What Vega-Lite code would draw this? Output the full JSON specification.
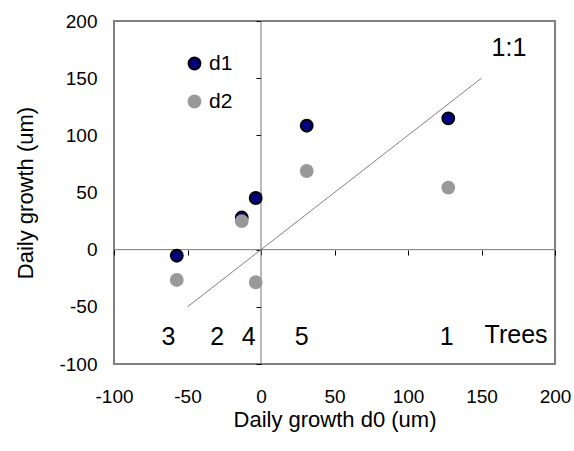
{
  "$schema": "https://vega.github.io/schema/vega-lite/v6.json",
  "width": 441,
  "height": 343,
  "autosize": "none",
  "padding": {"left": 114, "top": 21, "right": 19, "bottom": 87},
  "background": "white",
  "config": {
    "view": {"stroke": "#808080", "strokeWidth": 2},
    "font": "Liberation Sans",
    "axis": {"grid": false},
    "text": {"font": "Liberation Sans"}
  },
  "datasets": {
    "pts": [
      {"tree": "1", "d0": 127.4, "growth": 114.9, "series": "d1"},
      {"tree": "2", "d0": -13.1, "growth": 28.1, "series": "d1"},
      {"tree": "3", "d0": -57.3, "growth": -5.3, "series": "d1"},
      {"tree": "4", "d0": -3.6, "growth": 45.2, "series": "d1"},
      {"tree": "5", "d0": 31.1, "growth": 108.4, "series": "d1"},
      {"tree": "1", "d0": 127.4, "growth": 54.2, "series": "d2"},
      {"tree": "2", "d0": -13.1, "growth": 25.0, "series": "d2"},
      {"tree": "3", "d0": -57.3, "growth": -26.5, "series": "d2"},
      {"tree": "4", "d0": -3.6, "growth": -28.5, "series": "d2"},
      {"tree": "5", "d0": 31.1, "growth": 68.8, "series": "d2"}
    ],
    "labels": [
      {"label": "3", "x": -63.0, "y": -76.5},
      {"label": "2", "x": -29.8, "y": -76.5},
      {"label": "4", "x": -8.4, "y": -76.5},
      {"label": "5", "x": 27.7, "y": -76.5},
      {"label": "1", "x": 126.3, "y": -76.5},
      {"label": "Trees", "x": 173.5, "y": -74.5},
      {"label": "1:1", "x": 168.7, "y": 176.4}
    ],
    "oneone": [{"x": -50, "y": -50}, {"x": 150, "y": 150}],
    "zero": [{"v": 0}]
  },
  "layer": [
    {
      "data": {"name": "zero"},
      "mark": {"type": "rule", "color": "#777777", "strokeWidth": 1},
      "encoding": {
        "x": {
          "field": "v", "type": "quantitative",
          "scale": {"domain": [-100, 200], "nice": false, "zero": false},
          "axis": {"orient": "bottom", "offset": -114, "labels": false, "domain": false, "ticks": true, "tickSize": 5, "tickColor": "#000000", "tickWidth": 1, "title": null, "values": [-100, -50, 0, 50, 100, 150, 200]}
        }
      }
    },
    {
      "data": {"name": "zero"},
      "mark": {"type": "rule", "color": "#777777", "strokeWidth": 1},
      "encoding": {
        "y": {
          "field": "v", "type": "quantitative",
          "scale": {"domain": [-100, 200], "nice": false, "zero": false},
          "axis": {"orient": "left", "offset": -147, "labels": false, "domain": false, "ticks": true, "tickSize": 5, "tickColor": "#000000", "tickWidth": 1, "title": null, "values": [-100, -50, 0, 50, 100, 150, 200]}
        }
      }
    },
    {
      "data": {"name": "oneone"},
      "mark": {"type": "line", "color": "#808080", "strokeWidth": 1},
      "encoding": {
        "x": {"field": "x", "type": "quantitative", "scale": {"domain": [-100, 200], "nice": false, "zero": false}, "axis": null},
        "y": {"field": "y", "type": "quantitative", "scale": {"domain": [-100, 200], "nice": false, "zero": false}, "axis": null}
      }
    },
    {
      "data": {"name": "pts"},
      "mark": {"type": "point", "filled": true, "opacity": 1, "size": 140, "strokeWidth": 2, "shape": "circle"},
      "encoding": {
        "x": {
          "field": "d0", "type": "quantitative",
          "scale": {"domain": [-100, 200], "nice": false, "zero": false},
          "axis": {"orient": "bottom", "ticks": false, "domain": false, "labelFontSize": 19, "labelPadding": 23, "labelColor": "#000000", "labelExpr": "'' + datum.value", "values": [-100, -50, 0, 50, 100, 150, 200], "labelFlush": false, "title": "Daily growth d0 (um)", "titleFontSize": 22, "titleFontWeight": "normal", "titleColor": "#000000", "titlePadding": 3}
        },
        "y": {
          "field": "growth", "type": "quantitative",
          "scale": {"domain": [-100, 200], "nice": false, "zero": false},
          "axis": {"orient": "left", "ticks": false, "domain": false, "labelFontSize": 19, "labelPadding": 17, "labelColor": "#000000", "labelExpr": "'' + datum.value", "values": [-100, -50, 0, 50, 100, 150, 200], "labelFlush": false, "title": "Daily growth (um)", "titleFontSize": 22, "titleFontWeight": "normal", "titleColor": "#000000", "titlePadding": 21}
        },
        "fill": {
          "field": "series", "type": "nominal",
          "scale": {"domain": ["d1", "d2"], "range": ["#000080", "#999999"]},
          "legend": {"orient": "none", "legendX": 70, "legendY": 32, "title": null, "labelFontSize": 21, "labelColor": "#000000", "symbolSize": 140, "symbolStrokeWidth": 2, "symbolType": "circle", "rowPadding": 16, "labelOffset": 4, "padding": 0}
        },
        "stroke": {
          "field": "series", "type": "nominal",
          "scale": {"domain": ["d1", "d2"], "range": ["#000000", "#999999"]},
          "legend": {"orient": "none", "legendX": 70, "legendY": 32, "title": null, "labelFontSize": 21, "labelColor": "#000000", "symbolSize": 140, "symbolStrokeWidth": 2, "symbolType": "circle", "rowPadding": 16, "labelOffset": 4, "padding": 0}
        }
      }
    },
    {
      "data": {"name": "labels"},
      "mark": {"type": "text", "fontSize": 25, "align": "center", "baseline": "middle", "color": "#000000"},
      "encoding": {
        "x": {"field": "x", "type": "quantitative", "scale": {"domain": [-100, 200], "nice": false, "zero": false}, "axis": null},
        "y": {"field": "y", "type": "quantitative", "scale": {"domain": [-100, 200], "nice": false, "zero": false}, "axis": null},
        "text": {"field": "label", "type": "nominal"}
      }
    }
  ],
  "resolve": {"axis": {"x": "independent", "y": "independent"}}
}
